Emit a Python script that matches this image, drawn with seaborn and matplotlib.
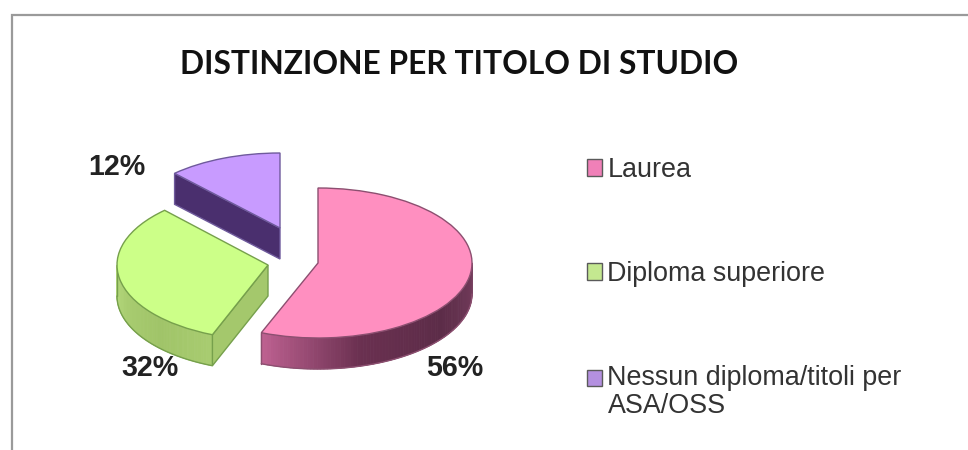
import numpy as np
import matplotlib
matplotlib.use("Agg")
import matplotlib.pyplot as plt
from matplotlib.collections import PolyCollection
from matplotlib.colors import LinearSegmentedColormap
from matplotlib.patches import Patch
from matplotlib.transforms import Affine2D
import seaborn as sns

title = "DISTINZIONE PER TITOLO DI STUDIO"
categories = ["Laurea", "Diploma superiore", "Nessun diploma/titoli per\nASA/OSS"]
shares = [56, 32, 12]

top_colors = ["#ff8fc0", "#ccff88", "#c89bff"]
edge_colors = ["#8c4f70", "#76a04c", "#6f5a9c"]
wall_ramps = [["#bd6090", "#6a3050", "#5c2c48", "#743c5c"],
              ["#b8dc80", "#a8cc70", "#a0c468", "#a8cc70"],
              ["#4a2f6e", "#4a2f6e"]]
legend_colors = ["#f080b8", "#c4e890", "#b490e0"]

sns.set_theme(style="white")
plt.rcParams["font.family"] = ["Liberation Sans", "DejaVu Sans"]

fig = plt.figure(figsize=(9.68, 4.5), dpi=100, facecolor="white")
ax = fig.add_axes([0, 0, 1, 1])

# Flattened 3D layout, in pixels: slice apexes, ellipse radii and extrusion depth
apexes = [(318, 263), (268, 265), (280, 228)]
radii_x = [154, 151, 154]
ry, depth = 75, 31
label_spots = [(455, 368), (150, 368), (117, 167)]

wedges, _ = ax.pie(shares, colors=top_colors, startangle=90, counterclock=False,
                   wedgeprops=dict(linewidth=1.0, zorder=5))
ax.set_aspect("auto")
ax.set_xlim(0, 968)
ax.set_ylim(450, 0)
ax.axis("off")


def rim(center, rx, deg):
    t = np.radians(deg)
    return center[0] + rx * np.cos(t), center[1] - ry * np.sin(t)


for wedge, center, rx, edge, ramp in zip(wedges, apexes, radii_x, edge_colors, wall_ramps):
    wedge.set_transform(Affine2D().scale(rx, -ry).translate(*center) + ax.transData)
    wedge.set_edgecolor(edge)
    wedge.set_clip_on(False)
    cmap = LinearSegmentedColormap.from_list("wall", ramp)

    # Outer wall: the part of the arc on the near half of the ellipse
    lo = max(wedge.theta1, -180)
    hi = min(wedge.theta2, 0)
    if hi > lo:
        angles = np.linspace(lo, hi, 90)
        pts = np.array([rim(center, rx, a) for a in angles])
        quads = [[pts[i], pts[i + 1], pts[i + 1] + (0, depth), pts[i] + (0, depth)]
                 for i in range(len(pts) - 1)]
        shades = cmap(np.linspace(0, 1, len(quads)))
        ax.add_collection(PolyCollection(quads, facecolors=shades, edgecolors=shades,
                                         linewidths=0.6, zorder=2))
        ax.plot(pts[:, 0], pts[:, 1] + depth, color=edge, lw=1.0, zorder=3)
        ax.plot([pts[0, 0]] * 2, [pts[0, 1], pts[0, 1] + depth], color=edge, lw=1.0, zorder=3)

    # Cut face along the slice's clockwise-trailing radius, when it faces the viewer
    if np.sin(np.radians(wedge.theta2 + 90)) < -1e-6:
        end = rim(center, rx, wedge.theta2)
        face = [center, end, (end[0], end[1] + depth), (center[0], center[1] + depth)]
        ax.fill(*zip(*face), facecolor=cmap(0.5), edgecolor=edge, lw=1.0, zorder=4)

for spot, share in zip(label_spots, shares):
    ax.text(*spot, f"{share}%", ha="center", va="center", fontsize=20.6,
            fontweight="bold", color="#222222", zorder=6)

ax.text(459, 65, title, ha="center", va="center", fontsize=22.9, fontweight="bold",
        family=["Lato", "DejaVu Sans"], color="#111111")

# Chart frame, open on the right and bottom
ax.plot([12, 12, 968], [450, 15, 15], color="#9a9a9a", lw=1.6, solid_joinstyle="miter",
        clip_on=False)

handles = [Patch(facecolor=c, edgecolor="#5a5a5a", linewidth=1.0) for c in legend_colors]
leg = ax.legend(handles, categories, loc="upper left",
                bbox_to_anchor=(587, 157), bbox_transform=ax.transData,
                frameon=False, fontsize=19.4, labelcolor="#333333",
                handlelength=0.56, handleheight=0.56, handletextpad=0.2,
                labelspacing=2.9, borderpad=0, borderaxespad=0, alignment="left")
for text in leg.get_texts():
    text.set_linespacing(1.1)

# Line the last swatch up with the first line of its two-line label
last = leg.legend_handles[2]
last.set_y(last.get_y() + 14.5 * 0.72)

fig.savefig("out.png", dpi=100, facecolor="white")
